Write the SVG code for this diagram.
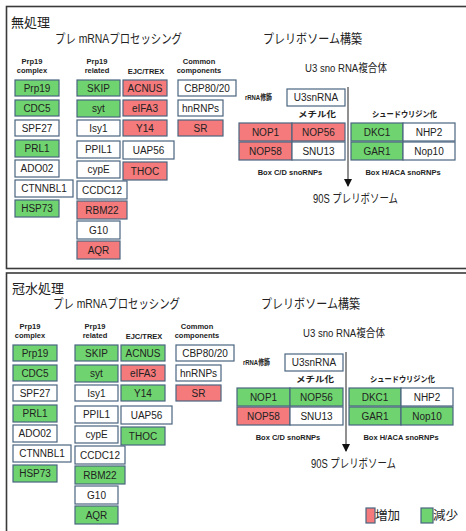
<svg xmlns="http://www.w3.org/2000/svg" width="466" height="531" viewBox="0 0 466 531">
<style>
.frame{fill:none;stroke:#3a3a3a;stroke-width:1.6}
.b{stroke:#4a6580;stroke-width:1.2}
.r{fill:#f47a7c}
.g{fill:#6fd46f}
.w{fill:#ffffff}
.t{font-family:"Liberation Sans",Arial,sans-serif;font-size:10px;fill:#222;text-anchor:middle}
.h{font-family:"Liberation Sans",Arial,sans-serif;font-size:7.5px;font-weight:bold;fill:#222;text-anchor:middle}
.j{font-family:"Liberation Sans","Noto Sans CJK JP",sans-serif;fill:#222}
.jb{font-family:"Liberation Sans","Noto Sans CJK JP",sans-serif;fill:#222;font-weight:bold;font-size:8px}
.ln{stroke:#222;stroke-width:1;fill:none}
</style>
<defs>
<marker id="ah" markerWidth="8" markerHeight="8" refX="7" refY="4" orient="auto" markerUnits="userSpaceOnUse">
<path d="M0,0 L8,4 L0,8 Z" fill="#111"/>
</marker>
</defs>
<rect width="466" height="531" fill="#ffffff"/>
<rect class="frame" x="6.5" y="6.5" width="470" height="262"/>
<rect class="frame" x="6.5" y="273" width="470" height="270"/>

<!-- ===== TOP PANEL ===== -->
<g id="top">
<text class="j" x="11" y="27" font-size="13">無処理</text>
<text class="j" x="55" y="43" font-size="13" textLength="127" lengthAdjust="spacingAndGlyphs">プレ mRNAプロセッシング</text>
<text class="j" x="263" y="43" font-size="13" textLength="99" lengthAdjust="spacingAndGlyphs">プレリボソーム構築</text>
<text class="j" x="305" y="72" font-size="11" textLength="82" lengthAdjust="spacingAndGlyphs">U3 sno RNA複合体</text>
<text class="h" x="32" y="64">Prp19</text><text class="h" x="32" y="73">complex</text>
<text class="h" x="97" y="64">Prp19</text><text class="h" x="97" y="73">related</text>
<text class="h" x="146" y="74">EJC/TREX</text>
<text class="h" x="199" y="64">Common</text><text class="h" x="199" y="73">components</text>

<g id="t-Prp19"><rect class="b g" x="15" y="80" width="44" height="16"/><text class="t" x="37" y="92">Prp19</text></g>
<g id="t-CDC5"><rect class="b g" x="15" y="100" width="44" height="16"/><text class="t" x="37" y="112">CDC5</text></g>
<g id="t-SPF27"><rect class="b w" x="15" y="120" width="44" height="16"/><text class="t" x="37" y="132">SPF27</text></g>
<g id="t-PRL1"><rect class="b g" x="15" y="140" width="44" height="17"/><text class="t" x="37" y="152">PRL1</text></g>
<g id="t-ADO02"><rect class="b w" x="15" y="160" width="44" height="17"/><text class="t" x="37" y="172">ADO02</text></g>
<g id="t-CTNNBL1"><rect class="b w" x="15" y="180" width="58" height="17"/><text class="t" x="44" y="192">CTNNBL1</text></g>
<g id="t-HSP73"><rect class="b g" x="15" y="200" width="44" height="17"/><text class="t" x="37" y="212">HSP73</text></g>

<g id="t-SKIP"><rect class="b g" x="77" y="80" width="43" height="16"/><text class="t" x="98.5" y="92">SKIP</text></g>
<g id="t-syt"><rect class="b g" x="77" y="100" width="43" height="17"/><text class="t" x="98.5" y="112">syt</text></g>
<g id="t-Isy1"><rect class="b w" x="77" y="120" width="43" height="16"/><text class="t" x="98.5" y="132">Isy1</text></g>
<g id="t-PPIL1"><rect class="b w" x="77" y="141" width="43" height="17"/><text class="t" x="98.5" y="153">PPIL1</text></g>
<g id="t-cypE"><rect class="b w" x="77" y="161" width="43" height="17"/><text class="t" x="98.5" y="173">cypE</text></g>
<g id="t-CCDC12"><rect class="b w" x="77" y="181" width="50" height="18"/><text class="t" x="102" y="194">CCDC12</text></g>
<g id="t-RBM22"><rect class="b r" x="77" y="201" width="50" height="18"/><text class="t" x="102" y="214">RBM22</text></g>
<g id="t-G10"><rect class="b w" x="77" y="221" width="43" height="18"/><text class="t" x="98.5" y="234">G10</text></g>
<g id="t-AQR"><rect class="b r" x="77" y="241" width="43" height="18"/><text class="t" x="98.5" y="254">AQR</text></g>

<g id="t-ACNUS"><rect class="b r" x="123" y="80" width="44" height="16"/><text class="t" x="145" y="92">ACNUS</text></g>
<g id="t-eIFA3"><rect class="b r" x="123" y="100" width="44" height="16"/><text class="t" x="145" y="112">eIFA3</text></g>
<g id="t-Y14"><rect class="b r" x="123" y="120" width="44" height="16"/><text class="t" x="145" y="132">Y14</text></g>
<g id="t-UAP56"><rect class="b w" x="123" y="141" width="51" height="18"/><text class="t" x="148.5" y="154">UAP56</text></g>
<g id="t-THOC"><rect class="b r" x="123" y="162" width="44" height="18"/><text class="t" x="145" y="175">THOC</text></g>

<g id="t-CBP"><rect class="b w" x="178" y="80" width="58" height="16"/><text class="t" x="207" y="92">CBP80/20</text></g>
<g id="t-hnRNPs"><rect class="b w" x="178" y="100" width="45" height="16"/><text class="t" x="200.5" y="112">hnRNPs</text></g>
<g id="t-SR"><rect class="b r" x="178" y="120" width="45" height="16"/><text class="t" x="200.5" y="132">SR</text></g>

<text class="jb" x="245" y="100" font-size="7.5" textLength="27" lengthAdjust="spacingAndGlyphs">rRNA修飾</text>
<g id="t-U3snRNA"><rect class="b w" x="287" y="89" width="58" height="17"/><text class="t" x="316" y="101">U3snRNA</text></g>
<text class="jb" x="298" y="117" textLength="38" lengthAdjust="spacingAndGlyphs">メチル化</text>
<text class="jb" x="372" y="117" textLength="65" lengthAdjust="spacingAndGlyphs">シュードウリジン化</text>
<g id="t-NOP1"><rect class="b r" x="239" y="123" width="53" height="18"/><text class="t" x="265.5" y="136">NOP1</text></g>
<g id="t-NOP56"><rect class="b r" x="292" y="123" width="53" height="18"/><text class="t" x="318.5" y="136">NOP56</text></g>
<g id="t-NOP58"><rect class="b r" x="239" y="142" width="53" height="18"/><text class="t" x="265.5" y="155">NOP58</text></g>
<g id="t-SNU13"><rect class="b w" x="292" y="142" width="53" height="18"/><text class="t" x="318.5" y="155">SNU13</text></g>
<g id="t-DKC1"><rect class="b g" x="351" y="123" width="52" height="18"/><text class="t" x="377" y="136">DKC1</text></g>
<g id="t-NHP2"><rect class="b w" x="403" y="123" width="52" height="18"/><text class="t" x="429" y="136">NHP2</text></g>
<g id="t-GAR1"><rect class="b g" x="351" y="142" width="52" height="18"/><text class="t" x="377" y="155">GAR1</text></g>
<g id="t-Nop10"><rect class="b w" x="403" y="142" width="52" height="18"/><text class="t" x="429" y="155">Nop10</text></g>
<text class="h" x="290" y="175">Box C/D snoRNPs</text>
<text class="h" x="403" y="175">Box H/ACA  snoRNPs</text>
<text class="j" x="313" y="203" font-size="12" textLength="85" lengthAdjust="spacingAndGlyphs">90S プレリボソーム</text>
</g>

<!-- ===== BOTTOM PANEL ===== -->
<g id="bottom" transform="translate(-2,265)">
<text class="j" x="14" y="28" font-size="13">冠水処理</text>
<text class="j" x="55" y="43" font-size="13" textLength="127" lengthAdjust="spacingAndGlyphs">プレ mRNAプロセッシング</text>
<text class="j" x="263" y="43" font-size="13" textLength="99" lengthAdjust="spacingAndGlyphs">プレリボソーム構築</text>
<text class="j" x="305" y="72" font-size="11" textLength="82" lengthAdjust="spacingAndGlyphs">U3 sno RNA複合体</text>
<text class="h" x="32" y="64">Prp19</text><text class="h" x="32" y="73">complex</text>
<text class="h" x="97" y="64">Prp19</text><text class="h" x="97" y="73">related</text>
<text class="h" x="146" y="74">EJC/TREX</text>
<text class="h" x="199" y="64">Common</text><text class="h" x="199" y="73">components</text>

<g id="b-Prp19"><rect class="b g" x="15" y="80" width="44" height="16"/><text class="t" x="37" y="92">Prp19</text></g>
<g id="b-CDC5"><rect class="b g" x="15" y="100" width="44" height="16"/><text class="t" x="37" y="112">CDC5</text></g>
<g id="b-SPF27"><rect class="b w" x="15" y="120" width="44" height="16"/><text class="t" x="37" y="132">SPF27</text></g>
<g id="b-PRL1"><rect class="b g" x="15" y="140" width="44" height="17"/><text class="t" x="37" y="152">PRL1</text></g>
<g id="b-ADO02"><rect class="b w" x="15" y="160" width="44" height="17"/><text class="t" x="37" y="172">ADO02</text></g>
<g id="b-CTNNBL1"><rect class="b w" x="15" y="180" width="58" height="17"/><text class="t" x="44" y="192">CTNNBL1</text></g>
<g id="b-HSP73"><rect class="b g" x="15" y="200" width="44" height="17"/><text class="t" x="37" y="212">HSP73</text></g>

<g id="b-SKIP"><rect class="b g" x="77" y="80" width="43" height="16"/><text class="t" x="98.5" y="92">SKIP</text></g>
<g id="b-syt"><rect class="b g" x="77" y="100" width="43" height="17"/><text class="t" x="98.5" y="112">syt</text></g>
<g id="b-Isy1"><rect class="b w" x="77" y="120" width="43" height="16"/><text class="t" x="98.5" y="132">Isy1</text></g>
<g id="b-PPIL1"><rect class="b w" x="77" y="141" width="43" height="17"/><text class="t" x="98.5" y="153">PPIL1</text></g>
<g id="b-cypE"><rect class="b w" x="77" y="161" width="43" height="17"/><text class="t" x="98.5" y="173">cypE</text></g>
<g id="b-CCDC12"><rect class="b w" x="77" y="181" width="50" height="18"/><text class="t" x="102" y="194">CCDC12</text></g>
<g id="b-RBM22"><rect class="b g" x="77" y="201" width="50" height="18"/><text class="t" x="102" y="214">RBM22</text></g>
<g id="b-G10"><rect class="b w" x="77" y="221" width="43" height="18"/><text class="t" x="98.5" y="234">G10</text></g>
<g id="b-AQR"><rect class="b g" x="77" y="241" width="43" height="18"/><text class="t" x="98.5" y="254">AQR</text></g>

<g id="b-ACNUS"><rect class="b g" x="123" y="80" width="44" height="16"/><text class="t" x="145" y="92">ACNUS</text></g>
<g id="b-eIFA3"><rect class="b r" x="123" y="100" width="44" height="16"/><text class="t" x="145" y="112">eIFA3</text></g>
<g id="b-Y14"><rect class="b g" x="123" y="120" width="44" height="16"/><text class="t" x="145" y="132">Y14</text></g>
<g id="b-UAP56"><rect class="b w" x="123" y="141" width="51" height="18"/><text class="t" x="148.5" y="154">UAP56</text></g>
<g id="b-THOC"><rect class="b g" x="123" y="162" width="44" height="18"/><text class="t" x="145" y="175">THOC</text></g>

<g id="b-CBP"><rect class="b w" x="178" y="80" width="58" height="16"/><text class="t" x="207" y="92">CBP80/20</text></g>
<g id="b-hnRNPs"><rect class="b w" x="178" y="100" width="45" height="16"/><text class="t" x="200.5" y="112">hnRNPs</text></g>
<g id="b-SR"><rect class="b r" x="178" y="120" width="45" height="16"/><text class="t" x="200.5" y="132">SR</text></g>

<text class="jb" x="245" y="100" font-size="7.5" textLength="27" lengthAdjust="spacingAndGlyphs">rRNA修飾</text>
<g id="b-U3snRNA"><rect class="b w" x="287" y="89" width="58" height="17"/><text class="t" x="316" y="101">U3snRNA</text></g>
<text class="jb" x="298" y="117" textLength="38" lengthAdjust="spacingAndGlyphs">メチル化</text>
<text class="jb" x="372" y="117" textLength="65" lengthAdjust="spacingAndGlyphs">シュードウリジン化</text>
<g id="b-NOP1"><rect class="b g" x="239" y="123" width="53" height="18"/><text class="t" x="265.5" y="136">NOP1</text></g>
<g id="b-NOP56"><rect class="b g" x="292" y="123" width="53" height="18"/><text class="t" x="318.5" y="136">NOP56</text></g>
<g id="b-NOP58"><rect class="b r" x="239" y="142" width="53" height="18"/><text class="t" x="265.5" y="155">NOP58</text></g>
<g id="b-SNU13"><rect class="b w" x="292" y="142" width="53" height="18"/><text class="t" x="318.5" y="155">SNU13</text></g>
<g id="b-DKC1"><rect class="b g" x="351" y="123" width="52" height="18"/><text class="t" x="377" y="136">DKC1</text></g>
<g id="b-NHP2"><rect class="b w" x="403" y="123" width="52" height="18"/><text class="t" x="429" y="136">NHP2</text></g>
<g id="b-GAR1"><rect class="b g" x="351" y="142" width="52" height="18"/><text class="t" x="377" y="155">GAR1</text></g>
<g id="b-Nop10"><rect class="b g" x="403" y="142" width="52" height="18"/><text class="t" x="429" y="155">Nop10</text></g>
<text class="h" x="290" y="175">Box C/D snoRNPs</text>
<text class="h" x="403" y="175">Box H/ACA  snoRNPs</text>
<text class="j" x="313" y="203" font-size="12" textLength="85" lengthAdjust="spacingAndGlyphs">90S プレリボソーム</text>
</g>

<g id="connectors">
<line class="ln" x1="348" y1="87" x2="348" y2="186" marker-end="url(#ah)"/>
<line class="ln" x1="346" y1="352" x2="346" y2="451" marker-end="url(#ah)"/>
</g>

<g id="legend">
<rect class="b r" x="366" y="508" width="9" height="15"/>
<text class="j" x="375" y="520" font-size="12.5">増加</text>
<rect class="b g" x="421" y="508" width="12" height="15"/>
<text class="j" x="433" y="520" font-size="12.5">減少</text>
</g>
</svg>
